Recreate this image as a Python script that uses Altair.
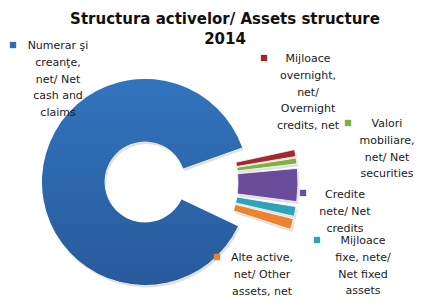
import altair as alt
import pandas as pd

# ---------------- data ----------------
categories = [
    "Numerar şi creanţe, net/ Net cash and claims",
    "Mijloace overnight, net/ Overnight credits, net",
    "Valori mobiliare, net/ Net securities",
    "Credite nete/ Net credits",
    "Mijloace fixe, nete/ Net fixed assets",
    "Alte active, net/ Other assets, net",
]
values = [87.5, 1.3, 1.1, 6.2, 1.85, 2.05]
label_lines = [
    ["Numerar şi", "creanţe,", "net/ Net", "cash and", "claims"],
    ["Mijloace", "overnight,", "net/", "Overnight", "credits, net"],
    ["Valori", "mobiliare,", "net/ Net", "securities"],
    ["Credite", "nete/ Net", "credits"],
    ["Mijloace", "fixe, nete/", "Net fixed", "assets"],
    ["Alte active,", "net/ Other", "assets, net"],
]
title_lines = ["Structura activelor/ Assets structure", "2014"]
colors = ["#2E6DB5", "#A3282E", "#80B040", "#6A4C9C", "#2FA3BC", "#EC8331"]

# ---------------- layout (pixels inside the chart) ----------------
W, H = 410, 291
CX, CY = 137, 174
label_x = [50, 300, 379, 337, 355, 254]
label_top = [32, 45, 110, 181, 227, 244]
square_x = [5, 256, 340, 295, 309, 209]
square_y = [37, 50, 115, 185, 232, 249]

df = pd.DataFrame({"order": list(range(len(categories))), "cat": categories, "value": values})

base = (
    alt.Chart(df)
    .transform_window(cum="sum(value)", sort=[alt.SortField("order")], frame=[None, 0])
    .transform_joinaggregate(total="sum(value)")
    .transform_calculate(f0="(datum.cum - datum.value) / datum.total", f1="datum.cum / datum.total")
    .transform_joinaggregate(fb="min(f1)")
    .transform_calculate(gm="93 * PI / 180")
    .transform_calculate(rot="datum.gm - PI * (1 + datum.fb)")
    .transform_calculate(t0="datum.rot + 2 * PI * datum.f0", t1="datum.rot + 2 * PI * datum.f1")
    .transform_calculate(mid="(datum.t0 + datum.t1) / 2", hw="(datum.t1 - datum.t0) / 2")
    .transform_calculate(
        th0="datum.order > 0 ? datum.gm + (datum.mid - datum.gm) * 0.69 - datum.hw * 0.56 : datum.t0",
        th1="datum.order > 0 ? datum.gm + (datum.mid - datum.gm) * 0.69 + datum.hw * 0.56 : datum.t1",
        rout="datum.order > 0 ? 153 : 103",
        rin="datum.order > 0 ? 93 : 40.5",
    )
)

enc = dict(
    theta=alt.Theta("th0:Q", scale=None, stack=None),
    theta2="th1:Q",
    radius=alt.Radius("rout:Q", scale=None, stack=None),
    radius2="rin:Q",
    x=alt.value(CX),
    y=alt.value(CY),
)

color_scale = alt.Scale(domain=categories, range=colors)

shadow = base.mark_arc(fill="#000000", opacity=0.12).encode(
    theta=alt.Theta("th0:Q", scale=None, stack=None),
    theta2="th1:Q",
    radius=alt.Radius("rout:Q", scale=None, stack=None),
    radius2="rin:Q",
    x=alt.value(CX + 1.5),
    y=alt.value(CY + 2.5),
)

slices = base.mark_arc(stroke="white", strokeWidth=0.8).encode(
    color=alt.Color("cat:N", scale=color_scale, legend=None), **enc
)

blue = base.transform_filter("datum.order == 0").mark_arc(
    fill=alt.Gradient(
        gradient="linear",
        stops=[alt.GradientStop(color="#3174BD", offset=0), alt.GradientStop(color="#285A9B", offset=1)],
        x1=0, x2=0, y1=0, y2=1,
    )
).encode(**enc)

lab = pd.DataFrame({
    "cat": categories,
    "text": ["\n".join(l) for l in label_lines],
    "lx": label_x, "ly": label_top, "sx": square_x, "sy": square_y,
})

squares = alt.Chart(lab).mark_square(size=40, opacity=1).encode(
    x=alt.X("sx:Q", scale=None), y=alt.Y("sy:Q", scale=None),
    color=alt.Color("cat:N", scale=color_scale, legend=None),
)

texts = alt.Chart(lab).mark_text(
    font="DejaVu Sans", fontSize=11, lineHeight=16.8, baseline="top", align="center",
    lineBreak="\n", color="#1a1a1a",
).encode(x=alt.X("lx:Q", scale=None), y=alt.Y("ly:Q", scale=None), text="text:N")

title = alt.Chart(pd.DataFrame({"t": ["\n".join(title_lines)]})).mark_text(
    font="DejaVu Sans", fontWeight="bold", fontSize=15, lineHeight=20, baseline="top",
    align="center", lineBreak="\n", color="#111111",
).encode(x=alt.value(217), y=alt.value(3.5), text="t:N")

chart = (
    alt.layer(shadow, slices, blue, squares, texts, title)
    .properties(width=W, height=H, autosize="none", padding=0, background="white")
    .configure_view(stroke=None)
)

chart.save("out.html", embed_options={"renderer": "svg", "actions": False})
